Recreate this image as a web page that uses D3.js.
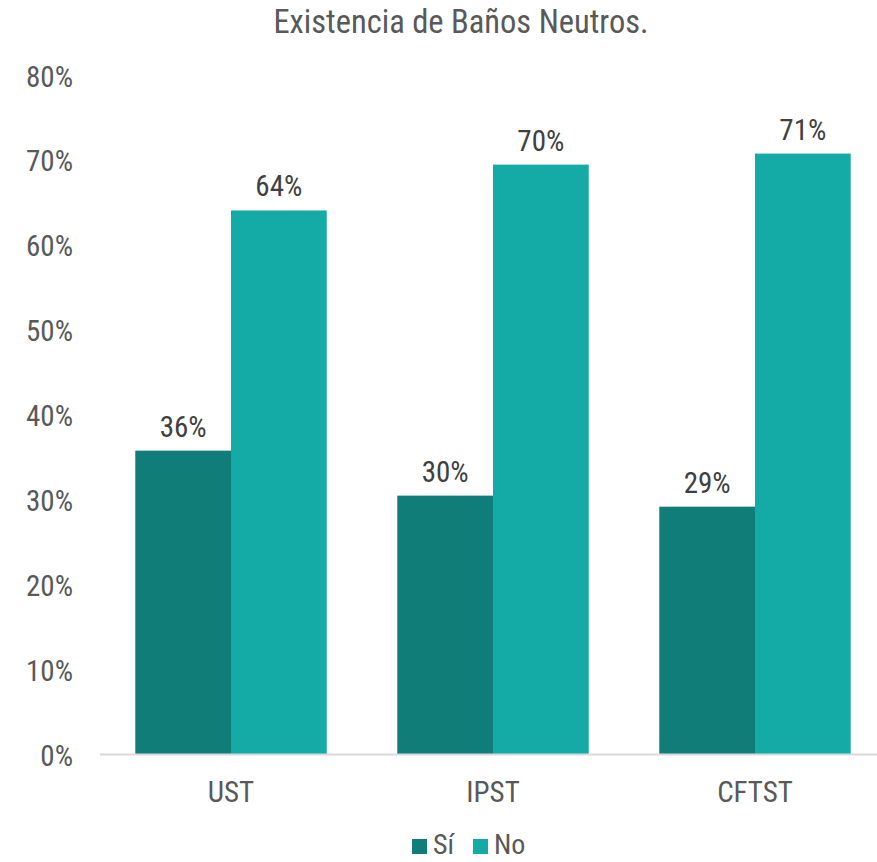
<!doctype html>
<html lang="es">
<head>
  <meta charset="utf-8">
  <title>Existencia de Baños Neutros</title>
  <script src="https://d3js.org/d3.v7.min.js"></script>
  <style>
    body { margin: 0; background: #fff; }
    svg text { font-family: "Liberation Sans Narrow", "Arial Narrow", "Roboto Condensed", sans-serif; }
  </style>
</head>
<body>
  <div id="chart"></div>
  <script>
    // data
    var categories = ["UST", "IPST", "CFTST"];
    var seriesNames = ["Sí", "No"];
    var siValues = [0.358, 0.305, 0.292];
    var noValues = [0.641, 0.695, 0.708];
    var siLabels = ["36%", "30%", "29%"];
    var noLabels = ["64%", "70%", "71%"];
    var yTicks = [0, 0.1, 0.2, 0.3, 0.4, 0.5, 0.6, 0.7, 0.8];

    var W = 877, H = 862;
    var colors = { "Sí": "#117d78", "No": "#14aaa5" };

    var svg = d3.select("#chart").append("svg")
      .attr("width", W).attr("height", H);

    var x = d3.scaleBand().domain(categories).range([100, 886]).paddingInner(0).paddingOuter(0);
    var xs = d3.scaleBand().domain(seriesNames).range([0, x.bandwidth()]).paddingInner(0).paddingOuter(0.3685);
    var y = d3.scaleLinear().domain([0, 0.8]).range([754.5, 75.5]);

    // title
    svg.append("text")
      .attr("x", 461).attr("y", 33)
      .attr("text-anchor", "middle")
      .attr("fill", "#595959")
      .style("font-size", "32.5px")
      .text("Existencia de Baños Neutros.");

    // y tick labels (no grid lines)
    svg.append("g").selectAll("text")
      .data(yTicks).enter().append("text")
      .attr("x", 73).attr("y", function(d) { return y(d) + 11; })
      .attr("text-anchor", "end")
      .attr("fill", "#595959")
      .style("font-size", "29px")
      .text(d3.format(".0%"));

    var rows = categories.map(function(c, i) {
      return [
        { cat: c, s: "Sí", v: siValues[i], lab: siLabels[i] },
        { cat: c, s: "No", v: noValues[i], lab: noLabels[i] }
      ];
    });

    var groups = svg.append("g").selectAll("g")
      .data(rows).enter().append("g")
      .attr("transform", function(d) { return "translate(" + x(d[0].cat) + ",0)"; });

    groups.selectAll("rect")
      .data(function(d) { return d; }).enter().append("rect")
      .attr("x", function(d) { return xs(d.s); })
      .attr("width", xs.bandwidth())
      .attr("y", function(d) { return y(d.v); })
      .attr("height", function(d) { return y(0) - y(d.v); })
      .attr("fill", function(d) { return colors[d.s]; });

    groups.selectAll("text")
      .data(function(d) { return d; }).enter().append("text")
      .attr("x", function(d) { return xs(d.s) + xs.bandwidth() / 2; })
      .attr("y", function(d) { return y(d.v) - 14; })
      .attr("text-anchor", "middle")
      .attr("fill", "#404040")
      .style("font-size", "29px")
      .text(function(d) { return d.lab; });

    // x axis line
    svg.append("line")
      .attr("x1", 100).attr("x2", W)
      .attr("y1", 754.5).attr("y2", 754.5)
      .attr("stroke", "#d9d9d9").attr("stroke-width", 2);

    // category labels
    svg.append("g").selectAll("text")
      .data(categories).enter().append("text")
      .attr("x", function(d) { return x(d) + x.bandwidth() / 2; })
      .attr("y", 802)
      .attr("text-anchor", "middle")
      .attr("fill", "#595959")
      .style("font-size", "29px")
      .text(function(d) { return d; });

    // legend
    var legend = svg.append("g").selectAll("g")
      .data(seriesNames).enter().append("g")
      .attr("transform", function(d, i) { return "translate(" + (412 + i * 61) + ",839)"; });
    legend.append("rect")
      .attr("width", 15).attr("height", 15)
      .attr("fill", function(d) { return colors[d]; });
    legend.append("text")
      .attr("x", 21).attr("y", 15)
      .attr("fill", "#595959")
      .style("font-size", "28px")
      .text(function(d) { return d; });
  </script>
</body>
</html>
